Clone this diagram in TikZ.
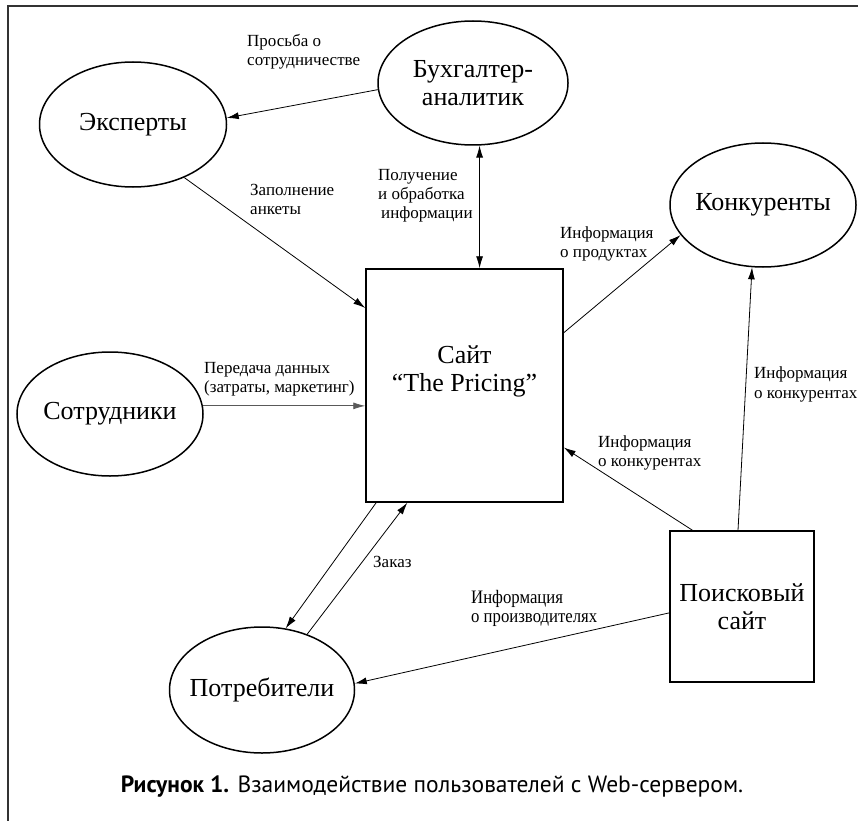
\documentclass[tikz,border=0pt]{standalone}
\usepackage{fontspec}
\setmainfont{Liberation Serif}
\setsansfont{PT Sans}
\newfontfamily\narrowfont{Liberation Serif}[FakeStretch=0.88]
\usetikzlibrary{shapes.geometric,arrows.meta,calc}

\begin{document}
\begin{tikzpicture}
	[   x=1pt,y=-1pt,
	    cnode/.style={draw=black,line width=1.5pt,fill=#1,ellipse,inner sep=0pt,minimum width=186pt,minimum height=124pt,align=center,font=\fontsize{26}{28}\selectfont},
	    snode/.style={draw=black,line width=1.5pt,fill=#1,rectangle,inner sep=0pt,align=center,font=\fontsize{26}{28}\selectfont},
	    lbl/.style={anchor=north west,inner sep=0pt,align=left,font=\fontsize{17}{19}\selectfont},
	]
	\tikzset{normal arrow/.style={draw,line width=0.8pt,-{Latex[length=12pt,width=7pt]}}}
	\tikzset{both arrow/.style={draw,line width=0.8pt,{Latex[length=12pt,width=7pt]}-{Latex[length=12pt,width=7pt]}}}
	\useasboundingbox (0,0) rectangle (858,821);
	\draw[black!80,line width=1.5pt] (858,6) -- (8,6) -- (8,821);
	
	\node[cnode=white,minimum width=187pt,minimum height=125pt] (exp) at (133,124.5) {Эксперты};
	\node[cnode=white,minimum width=190pt] (buh) at (473,83) {Бухгалтер-\\аналитик};
	\node[cnode=white,inner xsep=-8pt] (konk) at (763,205) {Конкуренты};
	\node[cnode=white,inner xsep=-8pt] (sotr) at (110,414) {Сотрудники};
	\node[cnode=white,inner xsep=-14pt,minimum width=185pt,minimum height=126pt] (potr) at (262,690) {Потребители};
	\node[snode=white,minimum width=197pt,minimum height=233pt,label={[yshift=14pt,align=center,font=\fontsize{26}{28}\selectfont]center:Сайт\\``The Pricing''}] (site) at (464.5,385.5) {};
	\node[snode=white,minimum width=144pt,minimum height=151pt] (poisk) at (742,606.5) {Поисковый\\сайт};
	
	\path[normal arrow] (buh.184) -- (exp.4.5);
	\path[normal arrow] (exp.-46) -- (site.142);
	\path[both arrow] (buh.-84) -- (buh.-84 |- site.north);
	\path[normal arrow] (site.28.5) -- (konk.200);
	\path[normal arrow,draw=black!65] (sotr.5) -- (sotr.5 -| site.west);
	\path[normal arrow] (poisk.123.5) -- (site.-32);
	\path[normal arrow] (poisk.93) -- (konk.260);
	\path[normal arrow] (poisk.185) -- (potr.4);
	\path[normal arrow] (site.233) -- (potr.69);
	\path[normal arrow] (potr.51) -- (site.244);
	
	\node[lbl] (l-ask) at (247,34) {Просьба о\\сотрудничестве};
	\node[lbl] (l-fill) at (250,184) {Заполнение\\анкеты};
	\node[lbl] (l-get) at (378,169) {Получение\\и обработка\\\hspace{3pt}информации};
	\node[lbl] (l-prod) at (560,227) {Информация\\о продуктах};
	\node[lbl] (l-data) at (204,362) {Передача данных\\(затраты, маркетинг)};
	\node[lbl] (l-comp1) at (598,435) {Информация\\о конкурентах};
	\node[lbl] (l-comp2) at (754,367) {Информация\\о конкурентах};
	\node[lbl,font=\narrowfont\fontsize{19}{19}\selectfont] (l-make) at (471,590) {Информация\\о производителях};
	\node[lbl] (l-order) at (373,556) {Заказ};
	
	\node[font=\sffamily\fontsize{23.5}{26}\selectfont] (cap) at (432,787) {\textbf{Рисунок 1.} Взаимодействие пользователей с Web-сервером.};
\end{tikzpicture}
\end{document}
